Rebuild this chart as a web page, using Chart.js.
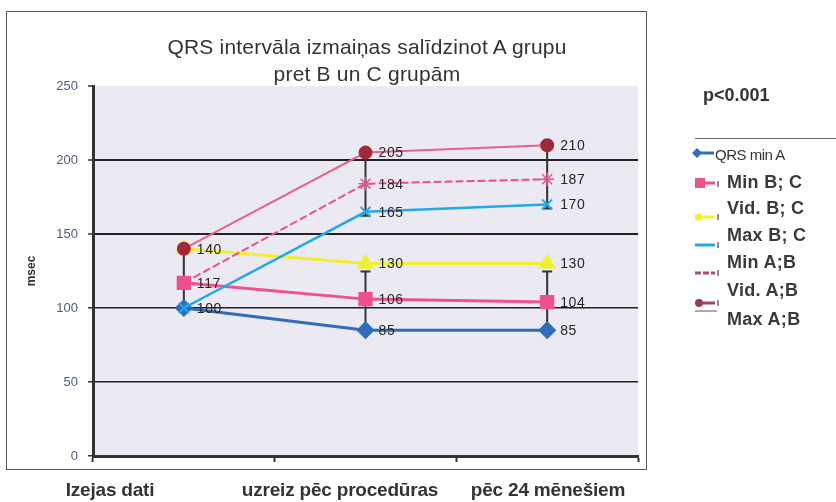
<!DOCTYPE html>
<html>
<head>
<meta charset="utf-8">
<script src="https://cdn.jsdelivr.net/npm/chart.js@4.4.1/dist/chart.umd.min.js"></script>
<style>
  body { margin: 0; background: #fff; width: 836px; height: 502px; overflow: hidden; position: relative;
         font-family: "Liberation Sans", Arial, sans-serif; color: #333; }
  .box { position: absolute; left: 6px; top: 11px; width: 641px; height: 459px; border: 1.5px solid #555; box-sizing: border-box; }
  #wrap { position: absolute; left: 0; top: 0; width: 836px; height: 502px; }
  .t { position: absolute; white-space: nowrap; }
  .title { left: 367px; transform: translateX(-50%); font-family: "Liberation Sans Narrow", "Liberation Sans", Arial; font-size: 21px; letter-spacing: 0.2px; color: #333; line-height: 21px; }
  .xl { top: 480px; transform: translateX(-50%); font-weight: bold; font-size: 19px; line-height: 19px; letter-spacing: -0.2px; color: #333; }
  .lg { left: 727px; font-weight: bold; font-size: 18px; line-height: 18px; letter-spacing: 0.3px; color: #3a3a3a; }
  svg.ic { position: absolute; overflow: visible; }
</style>
</head>
<body>
<div class="box"></div>
<div id="wrap"><canvas id="c" width="836" height="502"></canvas></div>

<div class="t title" style="top:36px">QRS intervāla izmaiņas salīdzinot A grupu</div>
<div class="t title" style="top:63px">pret B un C grupām</div>

<div class="t xl" style="left:110px">Izejas dati</div>
<div class="t xl" style="left:340px">uzreiz pēc procedūras</div>
<div class="t xl" style="left:548px">pēc 24 mēnešiem</div>

<div class="t" style="left:703px;top:86px;font-weight:bold;font-size:18px;line-height:18px;color:#333">p&lt;0.001</div>
<div style="position:absolute;left:695px;top:138px;width:141px;height:1px;background:#666"></div>

<svg class="ic" style="left:693px;top:147px" width="24" height="12">
  <line x1="3" y1="6" x2="21" y2="6" stroke="#2f6db8" stroke-width="3"/>
  <polygon points="4,1 9,6 4,11 -1,6" fill="#2f6db8"/>
</svg>
<div class="t" style="left:715px;top:147px;font-size:15px;line-height:15px;letter-spacing:-0.5px;color:#333">QRS min A</div>

<svg class="ic" style="left:695px;top:177px" width="30" height="12">
  <rect x="0" y="1" width="10" height="10" fill="#f0508c"/>
  <line x1="8" y1="6" x2="20" y2="6" stroke="#f0508c" stroke-width="3"/>
  <line x1="23" y1="4" x2="23" y2="10" stroke="#444" stroke-width="1.2"/>
</svg>
<div class="t lg" style="top:173px">Min B; C</div>

<svg class="ic" style="left:695px;top:211px" width="30" height="12">
  <polygon points="0,4 6,2 6,10 0,9" fill="#f2ee30"/>
  <line x1="4" y1="6" x2="20" y2="6" stroke="#f2ee30" stroke-width="3"/>
  <line x1="23" y1="3" x2="23" y2="9" stroke="#444" stroke-width="1.2"/>
</svg>
<div class="t lg" style="top:199px">Vid. B; C</div>

<svg class="ic" style="left:695px;top:239px" width="30" height="12">
  <line x1="0" y1="6" x2="20" y2="6" stroke="#20a8e8" stroke-width="3"/>
  <line x1="23" y1="3" x2="23" y2="9" stroke="#444" stroke-width="1.2"/>
</svg>
<div class="t lg" style="top:226px">Max B; C</div>

<svg class="ic" style="left:695px;top:267px" width="30" height="12">
  <line x1="0" y1="6" x2="20" y2="6" stroke="#a0506a" stroke-width="3" stroke-dasharray="6,2"/>
  <line x1="23" y1="3" x2="23" y2="9" stroke="#444" stroke-width="1.2"/>
</svg>
<div class="t lg" style="top:253px">Min A;B</div>

<svg class="ic" style="left:695px;top:297px" width="30" height="12">
  <circle cx="4" cy="6" r="4" fill="#9a3a52"/>
  <line x1="6" y1="6" x2="20" y2="6" stroke="#9a4a5e" stroke-width="3"/>
  <line x1="23" y1="3" x2="23" y2="9" stroke="#444" stroke-width="1.2"/>
</svg>
<div class="t lg" style="top:281px">Vid. A;B</div>

<svg class="ic" style="left:695px;top:305px" width="30" height="12">
  <line x1="0" y1="6" x2="22" y2="6" stroke="#555" stroke-width="1"/>
</svg>
<div class="t lg" style="top:310px">Max A;B</div>

<script>
const categories = ['Izejas dati', 'uzreiz pēc procedūras', 'pēc 24 mēnešiem'];
const qrsMinA = [100, 85, 85];
const minBC = [117, 106, 104];
const vidBC = [140, 130, 130];
const maxBC = [100, 165, 170];
const minAB = [117, 184, 187];
const vidAB = [140, 205, 210];
const maxAB = [];
const yMin = 0, yMax = 250, yStep = 50;

// plot background
const plotBg = {
  id: 'plotBg',
  beforeDraw(chart) {
    const { ctx, chartArea: a } = chart;
    ctx.save();
    ctx.fillStyle = '#ebeaf3';
    ctx.fillRect(a.left, a.top, a.right - a.left, a.bottom - a.top);
    ctx.restore();
  }
};

// high-low lines at each category
const hiLo = {
  id: 'hiLo',
  beforeDatasetsDraw(chart) {
    const { ctx, scales: { x, y } } = chart;
    ctx.save();
    ctx.strokeStyle = '#333';
    ctx.lineWidth = 2;
    categories.forEach((c, i) => {
      const px = x.getPixelForValue(i);
      const gap = maxBC[i] > vidBC[i];
      const a1 = y.getPixelForValue(vidAB[i]);
      const a2 = y.getPixelForValue(maxBC[i]) + (gap ? 4 : 0);
      const b1 = y.getPixelForValue(vidBC[i]) + (gap ? 8 : 0);
      const b2 = y.getPixelForValue(qrsMinA[i]);
      ctx.beginPath();
      ctx.moveTo(px, a1); ctx.lineTo(px, a2);
      ctx.moveTo(px, b1); ctx.lineTo(px, b2);
      if (gap) {
        ctx.moveTo(px - 5, a2); ctx.lineTo(px + 5, a2);
        ctx.moveTo(px - 5, b1); ctx.lineTo(px + 5, b1);
      }
      ctx.stroke();
    });
    ctx.restore();
  }
};

// value labels, one per distinct value at each category
const valueLabels = {
  id: 'valueLabels',
  afterDatasetsDraw(chart) {
    const ctx = chart.ctx;
    ctx.save();
    ctx.font = '14px "Liberation Sans", Arial';
    ctx.fillStyle = '#262626';
    ctx.textBaseline = 'middle';
    ctx.letterSpacing = '0.6px';
    categories.forEach((c, i) => {
      const seen = new Set();
      chart.data.datasets.forEach((ds, di) => {
        const v = ds.data[i];
        if (v == null || seen.has(v)) return;
        seen.add(v);
        const pt = chart.getDatasetMeta(di).data[i];
        ctx.fillText(String(v), pt.x + 13, pt.y + 1);
      });
    });
    ctx.restore();
  }
};

new Chart(document.getElementById('c'), {
  type: 'line',
  data: {
    labels: categories,
    datasets: [
      { label: 'QRS min A', data: qrsMinA, borderColor: '#2f6db8', backgroundColor: '#2f6db8',
        borderWidth: 3, pointStyle: 'rectRot', pointRadius: 7, order: 2 },
      { label: 'Min B; C', data: minBC, borderColor: '#f0508c', backgroundColor: '#f0508c',
        borderWidth: 3, pointStyle: 'rect', pointRadius: 8, order: 3 },
      { label: 'Vid. B; C', data: vidBC, borderColor: '#f2ee30', backgroundColor: '#f2ee30',
        borderWidth: 3, pointStyle: 'triangle', pointRadius: 7, order: 5 },
      { label: 'Max B; C', data: maxBC, borderColor: '#20a8e8', backgroundColor: '#20a8e8',
        borderWidth: 2.5, pointStyle: 'crossRot', pointRadius: 7, pointBorderWidth: 2, order: 1 },
      { label: 'Min A;B', data: minAB, borderColor: '#e8508a', backgroundColor: '#e04080',
        borderWidth: 2, borderDash: [8, 3], pointStyle: 'star', pointRadius: 7, pointBorderWidth: 1.5, order: 4 },
      { label: 'Vid. A;B', data: vidAB, borderColor: '#e8608f', backgroundColor: '#a02838',
        pointBorderColor: '#a02838', borderWidth: 2, pointStyle: 'circle', pointRadius: 6, order: 0 },
      { label: 'Max A;B', data: maxAB, borderColor: '#555', borderWidth: 1, pointRadius: 0, order: 6 }
    ]
  },
  options: {
    responsive: false,
    animation: false,
    layout: { padding: { left: 0, top: 86, right: 198, bottom: 0 } },
    plugins: { legend: { display: false }, tooltip: { enabled: false } },
    elements: { line: { tension: 0, fill: false } },
    scales: {
      x: {
        offset: true,
        grid: { offset: true, drawOnChartArea: false, drawTicks: true, tickLength: 6, tickColor: '#333', tickWidth: 2 },
        border: { display: true, color: '#333', width: 3 },
        ticks: { display: false },
        afterFit(s) { s.height = 46; }
      },
      y: {
        min: yMin, max: yMax,
        ticks: { stepSize: yStep, padding: 10, color: '#4d5d78', font: { family: '"Liberation Sans", Arial', size: 13 } },
        grid: {
          color: c => (c.tick.value === 0 || c.tick.value === 250) ? 'rgba(0,0,0,0)' : '#222',
          lineWidth: c => c.tick.value >= 150 ? 2 : 1.5,
          tickColor: '#333', tickLength: 5, tickWidth: 1.5
        },
        border: { display: true, color: '#333', width: 3 },
        title: { display: true, text: 'msec', color: '#333', padding: { top: 24 },
                 font: { family: '"Liberation Sans", Arial', size: 12, weight: 'bold' } },
        afterFit(s) { s.width = 93; }
      }
    }
  },
  plugins: [plotBg, hiLo, valueLabels]
});
</script>
</body>
</html>
